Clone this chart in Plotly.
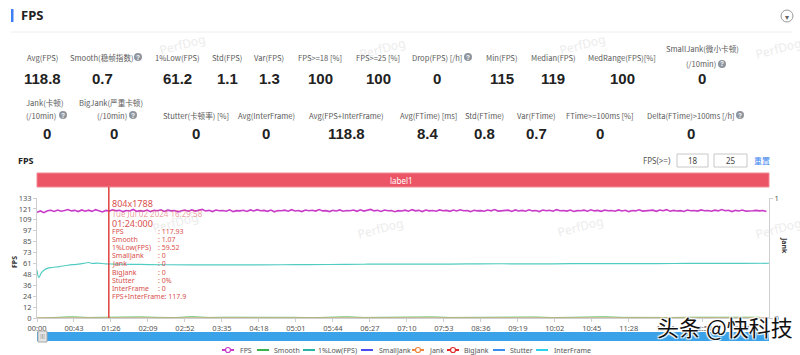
import plotly.graph_objects as go

# ------------------------------------------------------------------ data
row1_labels = ["Avg(FPS)", "Smooth(稳帧指数)", "1%Low(FPS)", "Std(FPS)", "Var(FPS)",
               "FPS>=18 [%]", "FPS>=25 [%]", "Drop(FPS) [/h]", "Min(FPS)", "Median(FPS)",
               "MedRange(FPS)[%]", "SmallJank(微小卡顿)<br>(/10min)"]
row1_values = ["118.8", "0.7", "61.2", "1.1", "1.3", "100", "100", "0", "115", "119", "100", "0"]

row2_labels = ["Jank(卡顿)<br>(/10min)", "BigJank(严重卡顿)<br>(/10min)", "Stutter(卡顿率) [%]",
               "Avg(InterFrame)", "Avg(FPS+InterFrame)", "Avg(FTime) [ms]", "Std(FTime)",
               "Var(FTime)", "FTime>=100ms [%]", "Delta(FTime)>100ms [/h]"]
row2_values = ["0", "0", "0", "0", "118.8", "8.4", "0.8", "0.7", "0", "0"]

x_tick_labels = ["00:00", "00:43", "01:26", "02:09", "02:52", "03:35", "04:18", "05:01",
                 "05:44", "06:27", "07:10", "07:53", "08:36", "09:19", "10:02", "10:45",
                 "11:28", "12:11", "12:54", "13:37"]
y_tick_labels = ["0", "12", "24", "36", "48", "61", "73", "85", "97", "109", "121", "133"]
y_max = 133
t_max = 851  # seconds shown on the axis

fps_step = 4  # seconds between FPS samples
fps_values = [
    117.2, 118.6, 116.8, 118.9, 119.4, 118.1, 119.6, 118.3, 119.1, 120.2, 118.7, 119.3, 118.0, 119.8, 118.4,
    119.5, 118.2, 120.1, 118.9, 117.6, 119.2, 118.5, 119.9, 118.8, 119.4, 117.9, 119.1, 118.6, 120.3, 118.2,
    119.0, 118.4, 119.7, 117.8, 119.3, 118.9, 120.0, 118.1, 119.5, 118.7, 119.2, 117.5, 118.9, 119.6, 118.3,
    119.8, 118.5, 119.1, 120.4, 118.6, 119.3, 118.0, 119.7, 118.8, 119.2, 118.4, 119.9, 117.9, 119.0, 118.7,
    119.4, 118.1, 119.8, 118.6, 120.1, 118.9, 119.3, 118.2, 119.6, 117.7, 119.1, 118.8, 119.5, 118.3, 120.0,
    118.6, 119.2, 118.0, 119.7, 118.9, 119.4, 118.5, 120.2, 118.7, 119.0, 117.9, 119.3, 118.6, 119.8, 118.4,
    119.1, 118.8, 119.6, 118.2, 119.9, 118.5, 119.2, 120.3, 118.7, 119.4, 118.1, 119.7, 118.9, 119.2, 117.8,
    119.0, 118.6, 119.5, 118.3, 120.1, 118.8, 119.3, 118.0, 119.6, 118.7, 119.1, 118.4, 119.8, 118.9, 119.3,
    118.2, 119.7, 118.6, 120.0, 118.9, 119.2, 117.9, 119.4, 118.7, 119.0, 118.3, 119.6, 118.8, 120.2, 118.5,
    119.1, 118.9, 119.5, 118.1, 119.8, 118.6, 119.3, 118.4, 119.9, 118.7, 119.2, 118.0, 119.6, 118.8, 119.4,
    118.3, 120.1, 118.9, 119.2, 118.5, 119.7, 118.1, 119.0, 118.8, 119.5, 118.4, 120.0, 118.7, 119.3, 118.2,
    119.6, 118.9, 119.1, 118.3, 119.8, 118.6, 119.4, 117.9, 119.2, 118.7, 119.9, 118.5, 119.0, 118.8, 119.5,
    118.2, 119.7, 118.9, 120.1, 118.4, 119.3, 118.6, 119.0, 118.1, 119.6, 118.8, 119.2, 118.5, 119.8, 118.9,
    119.1, 118.3, 119.5, 118.7, 120.2, 118.9, 119.4, 118.0, 119.3, 118.6, 119.7, 118.4, 119.0, 118.8, 119.3,
    118.7, 119.2, 118.1,
]

low1_times = [0, 2, 5, 8, 12, 18, 26, 36, 46, 54, 60, 64, 70, 80, 90, 100, 115, 130, 150, 180,
              220, 260, 300, 340, 380, 420, 460, 500, 540, 580, 620, 660, 700, 740, 780, 820, 851]
low1_values = [53, 45, 50, 53, 55, 56, 57, 58.5, 59.5, 60.5, 61.5, 60.5, 60.8, 60, 59.8, 59.6, 59.4,
               59.2, 59.0, 58.9, 58.8, 58.9, 59.1, 59.3, 59.6, 59.8, 59.7, 59.9, 60.1, 60.0, 60.2,
               60.3, 60.2, 60.4, 60.6, 60.5, 60.7]

smooth_step = 20
smooth_values = [0.0, 0.8, 1.2, 0.6, 0.9, 0.4, 1.1, 0.7, 0.5, 1.3, 0.6, 0.8, 0.9, 0.5, 1.0, 0.7,
                 0.4, 0.8, 1.2, 0.6, 0.9, 0.5, 0.7, 1.1, 0.6, 0.8, 0.4, 0.9, 0.7, 1.0, 0.5, 0.8,
                 0.6, 1.2, 0.7, 0.5, 0.9, 0.6, 0.8, 0.7, 1.0, 0.6, 0.8]

jank_times = [0, 851]
jank_values = [0, 0]

cursor_time = 83.5
tooltip_head = ["804x1788", "Tue Jul 02 2024 16:29:58", "01:24:000"]
tooltip_keys = ["FPS", "Smooth", "1%Low(FPS)", "SmallJank", "Jank", "BigJank", "Stutter", "InterFrame"]
tooltip_vals = [": 117.93", ": 1.07", ": 59.52", ": 0", ": 0", ": 0", ": 0%", ": 0"]
tooltip_last = "FPS+InterFrame: 117.9"

legend_names = ["FPS", "Smooth", "1%Low(FPS)", "SmallJank", "Jank", "BigJank", "Stutter", "InterFrame"]

# ------------------------------------------------------------------ styles
W, H = 800, 355
X0, X1, YB, YT = 37, 769, 318, 198

def px(x):
    return x / W

def py(y):
    return 1 - y / H

C_FPS = "#c83cc8"
C_SMOOTH = "#3cb44b"
C_LOW = "#52ccc2"
C_SMALL = "#4b4cf0"
C_JANK = "#f0843c"
C_BIG = "#e02b2b"
C_STUT = "#3b8df0"
C_INTER = "#2fd0ec"
legend_colors = [C_FPS, C_SMOOTH, "#2bb3a6", C_SMALL, C_JANK, C_BIG, C_STUT, C_INTER]
legend_marker = [True, False, False, False, True, True, False, False]
legend_sym_x = [228, 263, 309, 367, 418, 453, 499, 542]
legend_txt_x = [238, 272, 316, 377, 427, 462, 508, 552]

row1_x = [42, 102, 177, 227, 269, 320, 378, 437, 502, 553, 622, 702]
row1_x2 = {11: 701}
row2_x = [44, 111, 196, 266, 346, 428, 484, 536, 600, 691]
row2_x2 = {0: 41, 1: 112}
help_icons = [(138, 57), (468, 57), (722, 64), (63, 115), (133, 115), (740, 115)]

LBL_FONT = dict(family="Noto Sans CJK SC, Noto Sans", size=7.6, color="#5a5a5a")
VAL_FONT = dict(family="Liberation Sans, Arial", size=15, color="#222222", weight="bold")

fig = go.Figure()

fps_times = [i * fps_step for i in range(len(fps_values))]
smooth_times = [i * smooth_step for i in range(len(smooth_values))]

fig.add_trace(go.Scatter(x=smooth_times, y=smooth_values, mode="lines",
                         line=dict(color=C_SMOOTH, width=1), hoverinfo="skip"))
fig.add_trace(go.Scatter(x=jank_times, y=jank_values, mode="lines", yaxis="y2",
                         line=dict(color="#d9b48f", width=1.5), hoverinfo="skip"))
fig.add_trace(go.Scatter(x=low1_times, y=low1_values, mode="lines", line_shape="spline",
                         line=dict(color=C_LOW, width=1.2), hoverinfo="skip"))
fig.add_trace(go.Scatter(x=fps_times, y=fps_values, mode="lines",
                         line=dict(color=C_FPS, width=1.6), hoverinfo="skip"))

ann = []
shapes = []

# header
shapes.append(dict(type="rect", xref="paper", yref="paper", x0=px(11), x1=px(13.5), y0=py(22), y1=py(9),
                   fillcolor="#3d7ef5", line_width=0))
ann.append(dict(x=px(19), y=py(15.5), text="<b>FPS</b>", xanchor="left",
                font=dict(family="Noto Sans", size=13, color="#222")))
shapes.append(dict(type="line", xref="paper", yref="paper", x0=px(11), x1=px(792), y0=py(32), y1=py(32),
                   line=dict(color="#eeeeee", width=1)))
shapes.append(dict(type="circle", xref="paper", yref="paper", x0=px(781), x1=px(793), y0=py(22), y1=py(10),
                   line=dict(color="#9a9a9a", width=1), fillcolor="white"))
ann.append(dict(x=px(787), y=py(16), text="▾", font=dict(size=8, color="#666")))

# watermarks
for (wx, wy) in [(182, 44), (382, 48), (582, 44), (778, 48), (175, 222), (380, 228), (580, 226), (778, 228)]:
    ann.append(dict(x=px(wx), y=py(wy), text="PerfDog", textangle=-15,
                    font=dict(family="Noto Sans", size=12, color="#ececec")))

def add_label(x, x2, y_single, y_two, label):
    parts = label.split("<br>")
    if len(parts) == 1:
        ann.append(dict(x=px(x), y=py(y_single), text=parts[0], font=LBL_FONT))
    else:
        ann.append(dict(x=px(x), y=py(y_two[0]), text=parts[0], font=LBL_FONT))
        ann.append(dict(x=px(x2), y=py(y_two[1]), text=parts[1], font=LBL_FONT))

for i, (lab, val, x) in enumerate(zip(row1_labels, row1_values, row1_x)):
    add_label(x, row1_x2.get(i, x), 57, (48, 64), lab)
    ann.append(dict(x=px(x), y=py(78), text=val, font=VAL_FONT))
for i, (lab, val, x) in enumerate(zip(row2_labels, row2_values, row2_x)):
    add_label(x, row2_x2.get(i, x), 115, (102, 115), lab)
    ann.append(dict(x=px(x + (3 if i in (0, 1) else 0)), y=py(134), text=val, font=VAL_FONT))

# help icons
for (hx, hy) in help_icons:
    shapes.append(dict(type="circle", xref="paper", yref="paper", x0=px(hx - 4), x1=px(hx + 4),
                       y0=py(hy + 4), y1=py(hy - 4), fillcolor="#8f959e", line_width=0))
    ann.append(dict(x=px(hx), y=py(hy), text="<b>?</b>",
                    font=dict(family="Liberation Sans", size=6.5, color="white")))

# chart sub header
ann.append(dict(x=px(16), y=py(160), text="<b>FPS</b>", xanchor="left",
                font=dict(family="Noto Sans", size=9, color="#222")))
ann.append(dict(x=px(673), y=py(160), text="FPS(>=)", xanchor="right",
                font=dict(family="Noto Sans", size=8, color="#555")))
for (bx0, bx1, txt) in [(677, 708, "18"), (714, 747, "25")]:
    shapes.append(dict(type="rect", xref="paper", yref="paper", x0=px(bx0), x1=px(bx1), y0=py(167), y1=py(154),
                       line=dict(color="#c8c8c8", width=1), fillcolor="white"))
    ann.append(dict(x=px((bx0 + bx1) / 2), y=py(160.5), text=txt,
                    font=dict(family="Noto Sans", size=8, color="#444")))
ann.append(dict(x=px(762), y=py(160), text="重置",
                font=dict(family="Noto Sans CJK SC", size=8, color="#3b7ff0")))

# label bar
shapes.append(dict(type="rect", xref="paper", yref="paper", x0=px(X0), x1=px(X1), y0=py(187), y1=py(173),
                   fillcolor="#eb5566", line=dict(color="#f28a96", width=1)))
ann.append(dict(x=px(401), y=py(180), text="label1",
                font=dict(family="Noto Sans", size=8, color="white")))

# cursor line
shapes.append(dict(type="line", xref="x", yref="paper", x0=cursor_time, x1=cursor_time,
                   y0=py(YB), y1=py(187), line=dict(color="#e0403c", width=1.5)))

TT = "#d8504d"
ann.append(dict(x=px(110), y=py(203), text=tooltip_head[0], xanchor="left",
                font=dict(family="Noto Sans", size=9, color=TT)))
ann.append(dict(x=px(110), y=py(213.5), text=tooltip_head[1], xanchor="left",
                font=dict(family="Noto Sans", size=8, color="rgba(216,80,77,0.55)")))
ann.append(dict(x=px(110), y=py(223), text=tooltip_head[2], xanchor="left",
                font=dict(family="Noto Sans", size=9, color=TT)))
for i, (k, v) in enumerate(zip(tooltip_keys, tooltip_vals)):
    yy = 231 + i * 8.2
    ann.append(dict(x=px(110), y=py(yy), text=k, xanchor="left",
                    font=dict(family="Noto Sans", size=7, color=TT)))
    ann.append(dict(x=px(156), y=py(yy), text=v, xanchor="left",
                    font=dict(family="Noto Sans", size=7, color=TT)))
ann.append(dict(x=px(110), y=py(231 + len(tooltip_keys) * 8.2), text=tooltip_last, xanchor="left",
                font=dict(family="Noto Sans", size=7, color=TT)))

# axis titles
ann.append(dict(x=px(14), y=py(262), text="<b>FPS</b>", textangle=-90,
                font=dict(family="Noto Sans", size=7, color="#333")))
ann.append(dict(x=px(785), y=py(245), text="<b>Jank</b>", textangle=90,
                font=dict(family="Noto Sans", size=7, color="#333")))

# slider
shapes.append(dict(type="rect", xref="paper", yref="paper", x0=px(X0), x1=px(X1), y0=py(341), y1=py(332),
                   fillcolor="#3aa2e8", line_width=0))
shapes.append(dict(type="rect", xref="paper", yref="paper", x0=px(38), x1=px(47), y0=py(342), y1=py(331),
                   fillcolor="#e4e4e4", line=dict(color="#a8a8a8", width=1)))
for lx in (41, 42.5, 44):
    shapes.append(dict(type="line", xref="paper", yref="paper", x0=px(lx), x1=px(lx), y0=py(339), y1=py(334),
                       line=dict(color="#999", width=0.6)))

# legend
for name, col, mk, sx, tx in zip(legend_names, legend_colors, legend_marker, legend_sym_x, legend_txt_x):
    shapes.append(dict(type="line", xref="paper", yref="paper", x0=px(sx - 6), x1=px(sx + 6),
                       y0=py(350), y1=py(350), line=dict(color=col, width=2)))
    if mk:
        shapes.append(dict(type="circle", xref="paper", yref="paper", x0=px(sx - 2.5), x1=px(sx + 2.5),
                           y0=py(352.5), y1=py(347.5), fillcolor="white", line=dict(color=col, width=1.2)))
    ann.append(dict(x=px(tx), y=py(350), text=name, xanchor="left",
                    font=dict(family="Noto Sans", size=7, color="#555")))

# Toutiao watermark
ann.append(dict(x=px(725), y=py(326), text="头条 @快科技",
                font=dict(family="Noto Sans CJK SC", size=22, color="#111111",
                          shadow="1px 1px 1px white, -1px -1px 1px white, 1px -1px 1px white, -1px 1px 1px white")))

for a in ann:
    a.setdefault("xref", "paper")
    a.setdefault("yref", "paper")
    a.setdefault("showarrow", False)
    a.setdefault("xanchor", "center")
    a.setdefault("yanchor", "middle")

def mmss_to_sec(s):
    m, sec = s.split(":")
    return int(m) * 60 + int(sec)

AX_FONT = dict(family="Noto Sans", size=7.5, color="#555")
fig.update_layout(
    template="none",
    width=W, height=H, autosize=False,
    margin=dict(l=0, r=0, t=0, b=0, pad=0, autoexpand=False),
    paper_bgcolor="white", plot_bgcolor="white",
    showlegend=False,
    xaxis=dict(domain=[px(X0), px(X1)], range=[0, t_max], automargin=False,
               tickvals=[mmss_to_sec(s) for s in x_tick_labels], ticktext=x_tick_labels,
               showgrid=False, zeroline=False, showline=True, linecolor="#cfcfcf",
               ticks="outside", ticklen=3, tickcolor="#cfcfcf", tickfont=AX_FONT),
    yaxis=dict(domain=[py(YB), py(YT)], range=[0, y_max], automargin=False,
               tickvals=[i * y_max / (len(y_tick_labels) - 1) for i in range(len(y_tick_labels))],
               ticktext=y_tick_labels,
               showgrid=False, zeroline=False, showline=True, linecolor="#cfcfcf",
               ticks="outside", ticklen=3, tickcolor="#cfcfcf", tickfont=AX_FONT),
    yaxis2=dict(overlaying="y", side="right", anchor="x", range=[0, 1], tickvals=[0, 1], ticktext=["0", "1"],
                automargin=False,
                showgrid=False, zeroline=False, showline=True, linecolor="#cfcfcf",
                ticks="outside", ticklen=3, tickcolor="#cfcfcf", tickfont=AX_FONT),
    shapes=shapes,
    annotations=ann,
)

fig.write_html("out.html", config={"displayModeBar": False},
               post_script="document.body.style.margin='0';document.body.style.padding='0';")
